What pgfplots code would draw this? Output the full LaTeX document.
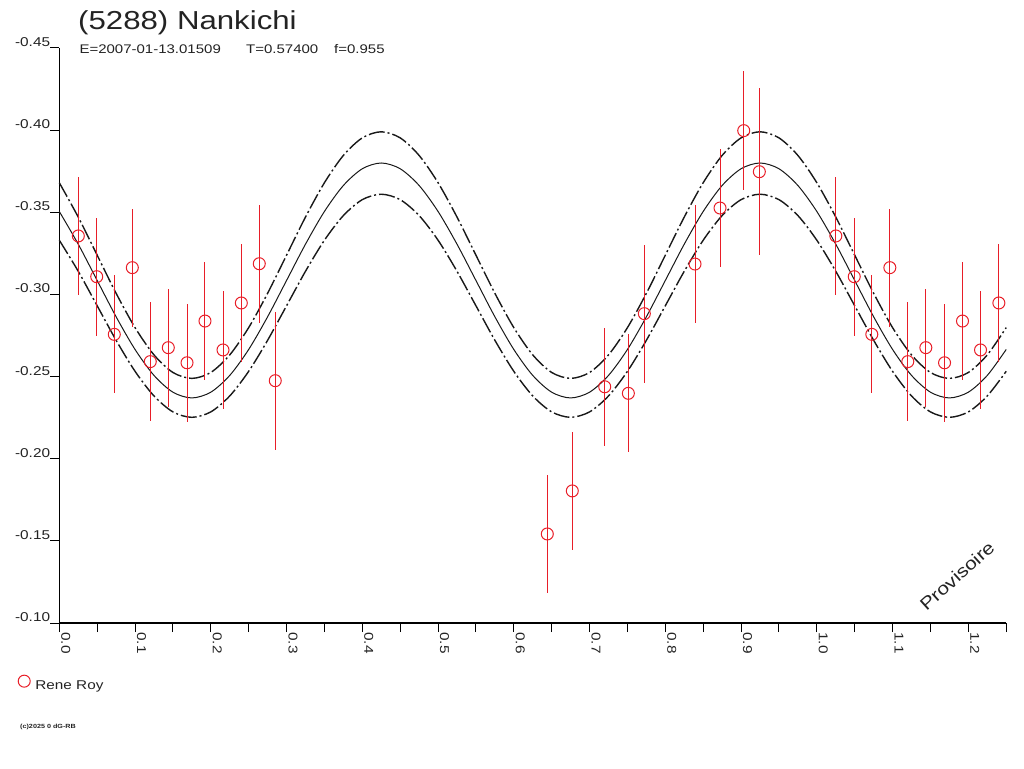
\documentclass[border=0pt]{standalone}
\usepackage{pgfplots}
\pgfplotsset{compat=1.18}
\usepackage{pgfplotstable}
\usepackage{fontspec}
\setmainfont{Liberation Sans}[FakeStretch=1.2]
\definecolor{ered}{RGB}{232,30,40}
\definecolor{curv}{RGB}{25,25,25}
\definecolor{txt}{RGB}{35,35,35}

\pgfplotstableread{
x c u l
0.000 -0.3505 -0.3680 -0.3330
0.025 -0.3306 -0.3471 -0.3141
0.050 -0.3085 -0.3239 -0.2931
0.075 -0.2864 -0.3007 -0.2721
0.100 -0.2665 -0.2798 -0.2532
0.125 -0.2507 -0.2632 -0.2382
0.150 -0.2405 -0.2525 -0.2285
0.175 -0.2370 -0.2489 -0.2252
0.200 -0.2405 -0.2525 -0.2285
0.225 -0.2507 -0.2632 -0.2382
0.250 -0.2665 -0.2798 -0.2532
0.275 -0.2864 -0.3007 -0.2721
0.300 -0.3085 -0.3239 -0.2931
0.325 -0.3306 -0.3471 -0.3141
0.350 -0.3505 -0.3680 -0.3330
0.375 -0.3663 -0.3846 -0.3480
0.400 -0.3765 -0.3953 -0.3577
0.425 -0.3800 -0.3990 -0.3610
0.450 -0.3765 -0.3953 -0.3577
0.475 -0.3663 -0.3846 -0.3480
0.500 -0.3505 -0.3680 -0.3330
0.525 -0.3306 -0.3471 -0.3141
0.550 -0.3085 -0.3239 -0.2931
0.575 -0.2864 -0.3007 -0.2721
0.600 -0.2665 -0.2798 -0.2532
0.625 -0.2507 -0.2632 -0.2382
0.650 -0.2405 -0.2525 -0.2285
0.675 -0.2370 -0.2489 -0.2252
0.700 -0.2405 -0.2525 -0.2285
0.725 -0.2507 -0.2632 -0.2382
0.750 -0.2665 -0.2798 -0.2532
0.775 -0.2864 -0.3007 -0.2721
0.800 -0.3085 -0.3239 -0.2931
0.825 -0.3306 -0.3471 -0.3141
0.850 -0.3505 -0.3680 -0.3330
0.875 -0.3663 -0.3846 -0.3480
0.900 -0.3765 -0.3953 -0.3577
0.925 -0.3800 -0.3990 -0.3610
0.950 -0.3765 -0.3953 -0.3577
0.975 -0.3663 -0.3846 -0.3480
1.000 -0.3505 -0.3680 -0.3330
1.025 -0.3306 -0.3471 -0.3141
1.050 -0.3085 -0.3239 -0.2931
1.075 -0.2864 -0.3007 -0.2721
1.100 -0.2665 -0.2798 -0.2532
1.125 -0.2507 -0.2632 -0.2382
1.150 -0.2405 -0.2525 -0.2285
1.175 -0.2370 -0.2489 -0.2252
1.200 -0.2405 -0.2525 -0.2285
1.225 -0.2507 -0.2632 -0.2382
1.250 -0.2665 -0.2798 -0.2532
}\fitcurve

\pgfplotstableread{
x y e
0.0251 -0.3356 0.036
0.0494 -0.3108 0.036
0.0726 -0.2757 0.036
0.0964 -0.3163 0.036
0.1201 -0.2591 0.036
0.1439 -0.2676 0.036
0.1686 -0.2584 0.036
0.1923 -0.2838 0.036
0.2161 -0.2662 0.036
0.2403 -0.2948 0.036
0.2640 -0.3187 0.036
0.2851 -0.2475 0.042
0.6442 -0.1542 0.036
0.6772 -0.1804 0.036
0.7200 -0.2438 0.036
0.7512 -0.2398 0.036
0.7723 -0.2883 0.042
0.8392 -0.3185 0.036
0.8722 -0.3526 0.036
0.9035 -0.3997 0.036
0.9241 -0.3747 0.051
1.0251 -0.3356 0.036
1.0494 -0.3108 0.036
1.0726 -0.2757 0.036
1.0964 -0.3163 0.036
1.1201 -0.2591 0.036
1.1439 -0.2676 0.036
1.1686 -0.2584 0.036
1.1923 -0.2838 0.036
1.2161 -0.2662 0.036
1.2403 -0.2948 0.036
}\roy

\begin{document}
\begin{tikzpicture}
\path[use as bounding box] (0pt,0pt) rectangle (1024pt,768pt);
\begin{axis}[
  at={(59.3pt,145pt)}, anchor=south west,
  scale only axis, width=946.9pt, height=575pt,
  xmin=0, xmax=1.25, ymin=-0.45, ymax=-0.10, y dir=reverse,
  axis x line=bottom, axis y line=left,
  axis line style={-, line width=1.2pt, black},
  xtick={0,0.1,0.2,0.3,0.4,0.5,0.6,0.7,0.8,0.9,1.0,1.1,1.2},
  minor xtick={0.05,0.15,0.25,0.35,0.45,0.55,0.65,0.75,0.85,0.95,1.05,1.15,1.25},
  ytick={-0.45,-0.40,-0.35,-0.30,-0.25,-0.20,-0.15,-0.10},
  tick align=outside, major tick length=9pt, minor tick length=9pt,
  tick style={black, line width=1pt},
  /pgf/number format/assume math mode=true,
  scaled ticks=false,
  tick label style={font=\fontsize{12.8}{14}\selectfont, text=txt},
  xticklabel style={/pgf/number format/fixed, /pgf/number format/fixed zerofill, /pgf/number format/precision=1,
     xshift=2pt, rotate=-90, anchor=base west, inner sep=0pt},
  yticklabel style={/pgf/number format/fixed, /pgf/number format/fixed zerofill, /pgf/number format/precision=2,
     anchor=base east, inner sep=0pt, yshift=1.5pt},
  legend style={at={(axis description cs:-0.0436,-0.1043)}, anchor=west, draw=none, fill=none,
     inner sep=0pt, outer sep=0pt, font=\fontsize{12.75}{14}\selectfont, text=txt, nodes={inner sep=0pt}},
  legend image code/.code={\draw[#1] plot coordinates {(6pt,4.5pt)}; \path (0pt,0pt) (17pt,0pt);},
  clip=false,
]
\addplot[curv, line width=1pt, smooth, forget plot] table[x=x,y=c]{\fitcurve};
\addplot[curv, line width=1.4pt, smooth, dash pattern=on 16pt off 3pt on 2pt off 3pt, forget plot] table[x=x,y=u]{\fitcurve};
\addplot[curv, line width=1.4pt, smooth, dash pattern=on 16pt off 3pt on 2pt off 3pt, forget plot] table[x=x,y=l]{\fitcurve};
\addplot[only marks, mark=o, mark size=6pt, color=ered, mark options={line width=1pt},
   error bars/.cd, y dir=both, y explicit, error mark=none, error bar style={line width=1pt, ered}]
   table[x=x, y=y, y error=e]{\roy};
\addlegendentry{Rene Roy}
\end{axis}
\node[anchor=base west, inner sep=0pt, text=txt, font=\fontsize{26}{30}\selectfont] at (78pt,738pt) {(5288) Nankichi};
\node[anchor=base west, inner sep=0pt, text=txt, font=\fontsize{12.5}{14}\selectfont] at (79.3pt,714.7pt) {E=2007-01-13.01509};
\node[anchor=base west, inner sep=0pt, text=txt, font=\fontsize{12.5}{14}\selectfont] at (246pt,714.7pt) {T=0.57400};
\node[anchor=base west, inner sep=0pt, text=txt, font=\fontsize{12.5}{14}\selectfont] at (334pt,714.7pt) {f=0.955};
\node[rotate=42, inner sep=0pt, text=txt, font=\fontsize{17.5}{20}\selectfont] at (957pt,192pt) {Provisoire};
\node[anchor=base west, inner sep=0pt, text=txt, font=\fontsize{6}{7}\selectfont\bfseries] at (20pt,40pt) {(c)2025 0 dG-RB};
\end{tikzpicture}
\end{document}
